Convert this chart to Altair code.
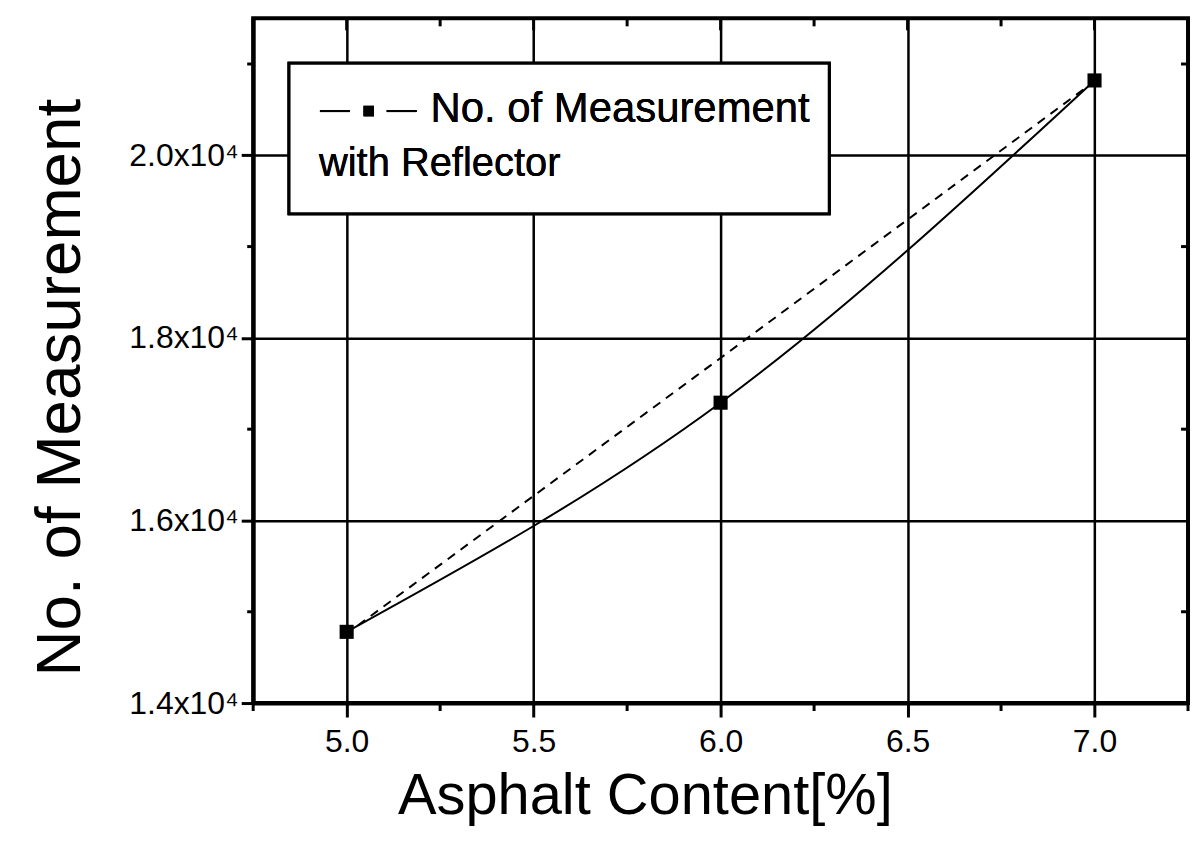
import altair as alt
import pandas as pd

# Data
asphalt = [5.0, 6.0, 7.0]
measurements = [14780, 17290, 20820]
fit_x = [5.03, 6.0, 6.97]
fit_y = [14850, 17780, 20720]

major_x = [5.0, 5.5, 6.0, 6.5, 7.0]
minor_x = [4.75, 5.25, 5.75, 6.25, 6.75, 7.25]
major_y = [14000, 16000, 18000, 20000]
minor_y = [15000, 17000, 19000, 21000]

W, H = 938, 687
FONT = "Liberation Sans"

pts = pd.DataFrame({"x": asphalt, "y": measurements})
fit = pd.DataFrame({"x": fit_x, "y": fit_y})
mx = pd.DataFrame({"v": major_x})
nx = pd.DataFrame({"v": minor_x})
my = pd.DataFrame({"v": major_y})
ny = pd.DataFrame({"v": minor_y})

xs = alt.Scale(domain=[4.75, 7.25], nice=False, zero=False)
ys = alt.Scale(domain=[14000, 21500], nice=False, zero=False)

x_axis = alt.Axis(
    values=major_x, format=".1f", title="Asphalt Content[%]",
    labelFont=FONT, labelFontSize=32, labelColor="black", labelPadding=10,
    tickSize=14, tickWidth=3, tickColor="black",
    domainColor="black", domainWidth=4,
    grid=True, gridColor="black", gridWidth=2.5, gridOpacity=1,
    titleFont=FONT, titleFontSize=58, titleFontWeight="normal", titleColor="black",
    titlePadding=10, titleX=393, titleAnchor="middle",
)
y_axis = alt.Axis(
    values=major_y, title="No. of Measurement",
    labelExpr="format(datum.value/10000, '.1f') + 'x10\u2074'",
    labelFont=FONT, labelFontSize=32, labelColor="black", labelPadding=3,
    tickSize=12, tickWidth=3, tickColor="black",
    domainColor="black", domainWidth=4,
    grid=True, gridColor="black", gridWidth=2.5, gridOpacity=1,
    titleFont=FONT, titleFontSize=64, titleFontWeight="normal", titleColor="black",
    titlePadding=36, titleY=370, titleAnchor="middle",
)

base_line = alt.Chart(pts).mark_line(
    interpolate="natural", color="black", strokeWidth=2
).encode(
    x=alt.X("x:Q", scale=xs, axis=x_axis),
    y=alt.Y("y:Q", scale=ys, axis=y_axis),
)

dashed = alt.Chart(fit).mark_line(
    color="black", strokeWidth=2, strokeDash=[9, 7]
).encode(x=alt.X("x:Q", scale=xs), y=alt.Y("y:Q", scale=ys))

squares = alt.Chart(pts).mark_square(
    color="black", size=200, opacity=1, filled=True
).encode(x=alt.X("x:Q", scale=xs), y=alt.Y("y:Q", scale=ys))

def xticks(df, y0, y1, w=3):
    return alt.Chart(df).mark_rule(color="black", strokeWidth=w).encode(
        x=alt.X("v:Q", scale=xs), y=alt.value(y0), y2=alt.value(y1))

def yticks(df, x0, x1, w=3):
    return alt.Chart(df).mark_rule(color="black", strokeWidth=w).encode(
        y=alt.Y("v:Q", scale=ys), x=alt.value(x0), x2=alt.value(x1))

ticks = [
    xticks(nx, H, H + 8),        # bottom minor, outward
    xticks(mx, 0, 12),           # top major, inward
    xticks(nx, 0, 8),            # top minor, inward
    yticks(ny, -6, 0),           # left minor, outward
    yticks(ny, W - 7, W),        # right minor, inward
]

# Legend box
lbox = alt.Chart(pts).mark_rect(
    fill="white", stroke="black", strokeWidth=3
).encode(x=alt.value(36), x2=alt.value(578), y=alt.value(45), y2=alt.value(196))

leg_l1 = alt.Chart(pts).mark_rule(color="black", strokeWidth=2).encode(
    x=alt.value(67), x2=alt.value(97), y=alt.value(93))
leg_l2 = alt.Chart(pts).mark_rule(color="black", strokeWidth=2).encode(
    x=alt.value(134), x2=alt.value(164), y=alt.value(93))
leg_sq = alt.Chart(pts).mark_square(color="black", size=110, opacity=1).encode(
    x=alt.value(116), y=alt.value(93))
leg_t1 = alt.Chart(pts).mark_text(
    text="No. of Measurement", font=FONT, fontSize=42, align="left",
    baseline="middle", color="black"
).encode(x=alt.value(178), y=alt.value(91))
leg_t2 = alt.Chart(pts).mark_text(
    text="with Reflector", font=FONT, fontSize=40, align="left",
    baseline="middle", color="black"
).encode(x=alt.value(66), y=alt.value(146))

chart = alt.layer(
    base_line, dashed, squares, *ticks,
    lbox, leg_l1, leg_l2, leg_sq, leg_t1, leg_t2,
).properties(
    width=W, height=H,
    autosize=alt.AutoSizeParams(type="none"),
    padding={"left": 246, "top": 9, "right": 5, "bottom": 130},
    background="white",
).configure_view(stroke="black", strokeWidth=4)

chart.save("out.html", embed_options={"renderer": "svg", "actions": False})
